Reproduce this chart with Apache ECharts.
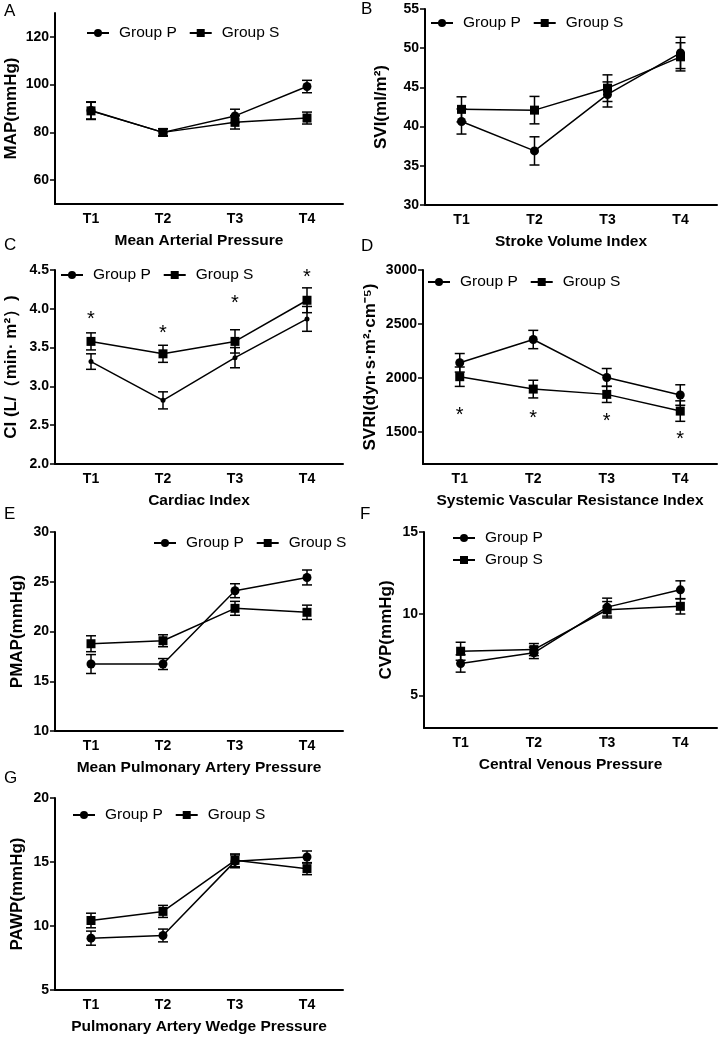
<!DOCTYPE html>
<html><head><meta charset="utf-8">
<script src="https://cdn.jsdelivr.net/npm/echarts@6/dist/echarts.min.js"></script>
<style>html,body{margin:0;padding:0;background:#fff}#c{width:721px;height:1038px}</style>
</head><body><div id="c"></div>
<script>
// ---------- data ----------
const timepoints = ['T1', 'T2', 'T3', 'T4'];
const seriesNames = ['Group P', 'Group S'];

const mapP = [89.2, 80.0, 86.9, 99.2];
const mapPErr = [3.6, 1.5, 2.8, 2.6];
const mapS = [89.0, 80.0, 84.2, 86.0];
const mapSErr = [3.6, 1.5, 2.8, 2.5];
const mapTicks = [60, 80, 100, 120];

const sviP = [40.65, 36.9, 44.1, 49.4];
const sviPErr = [1.6, 1.8, 1.6, 2.0];
const sviS = [42.2, 42.1, 44.9, 48.9];
const sviSErr = [1.6, 1.75, 1.7, 1.8];
const sviTicks = [30, 35, 40, 45, 50, 55];

const ciP = [3.32, 2.82, 3.37, 3.87];
const ciPErr = [0.10, 0.11, 0.13, 0.16];
const ciS = [3.58, 3.42, 3.58, 4.11];
const ciSErr = [0.11, 0.11, 0.15, 0.16];
const ciStars = [3.91, 3.73, 4.12, 4.46];
const ciTicks = [2.0, 2.5, 3.0, 3.5, 4.0, 4.5];

const svriP = [2139, 2355, 2003, 1840];
const svriPErr = [86, 85, 83, 95];
const svriS = [2010, 1895, 1846, 1691];
const svriSErr = [90, 82, 75, 95];
const svriStars = [1685, 1655, 1633, 1469];
const svriTicks = [1500, 2000, 2500, 3000];

const pmapP = [16.73, 16.73, 24.1, 25.43];
const pmapPErr = [0.95, 0.55, 0.7, 0.75];
const pmapS = [18.77, 19.07, 22.33, 21.93];
const pmapSErr = [0.8, 0.6, 0.7, 0.72];
const pmapTicks = [10, 15, 20, 25, 30];

const cvpP = [6.95, 7.6, 10.4, 11.46];
const cvpPErr = [0.53, 0.35, 0.55, 0.55];
const cvpS = [7.7, 7.8, 10.24, 10.45];
const cvpSErr = [0.55, 0.37, 0.5, 0.47];
const cvpTicks = [5, 10, 15];

const pawpP = [9.05, 9.26, 15.05, 15.39];
const pawpPErr = [0.55, 0.5, 0.5, 0.47];
const pawpS = [10.43, 11.14, 15.13, 14.48];
const pawpSErr = [0.57, 0.47, 0.5, 0.47];
const pawpTicks = [5, 10, 15, 20];

// ---------- layout ----------
const FONT = '"Liberation Sans", Arial, sans-serif';
const panels = [
  {letter:'A', lx:10, ly:12, grid:{left:55, top:13, width:288, height:191}, min:50, max:130, interval:10, ticks:mapTicks,
   yName:'MAP(mmHg)', yGap:35, xName:'Mean Arterial Pressure', P:mapP, PE:mapPErr, S:mapS, SE:mapSErr, pSize:9,
   legend:{left:86, top:25, orient:'horizontal'}},
  {letter:'B', lx:367, ly:10, grid:{left:425, top:9, width:292, height:196}, min:30, max:55, interval:5, ticks:sviTicks,
   yName:'SVI(ml/m²)', yGap:35, xName:'Stroke Volume Index', P:sviP, PE:sviPErr, S:sviS, SE:sviSErr, pSize:9,
   legend:{left:430, top:15, orient:'horizontal'}},
  {letter:'C', lx:10, ly:246, grid:{left:55, top:270, width:288, height:194}, min:2.0, max:4.5, interval:0.5, ticks:ciTicks, dec:1,
   yName:'CI (L/（min· m²）)', yGap:35, xName:'Cardiac Index', P:ciP, PE:ciPErr, S:ciS, SE:ciSErr, pSize:5, stars:ciStars,
   legend:{left:60, top:267, orient:'horizontal'}},
  {letter:'D', lx:367, ly:247, grid:{left:423, top:270, width:294, height:194}, min:1200, max:3000, interval:100, ticks:svriTicks,
   yName:'SVRI(dyn·s·m²·cm⁻⁵)', yGap:44, xName:'Systemic Vascular Resistance Index', P:svriP, PE:svriPErr, S:svriS, SE:svriSErr, pSize:9, stars:svriStars,
   legend:{left:427, top:274, orient:'horizontal'}},
  {letter:'E', lx:10, ly:515, grid:{left:55, top:532, width:288, height:199}, min:10, max:30, interval:5, ticks:pmapTicks,
   yName:'PMAP(mmHg)', yGap:29, xName:'Mean Pulmonary Artery Pressure', P:pmapP, PE:pmapPErr, S:pmapS, SE:pmapSErr, pSize:9,
   legend:{left:153, top:535, orient:'horizontal'}},
  {letter:'F', lx:366, ly:515, grid:{left:424, top:532, width:293, height:196}, min:3, max:15, interval:1, ticks:cvpTicks,
   yName:'CVP(mmHg)', yGap:29, xName:'Central Venous Pressure', P:cvpP, PE:cvpPErr, S:cvpS, SE:cvpSErr, pSize:9,
   legend:{left:452, top:530, orient:'vertical'}},
  {letter:'G', lx:10, ly:779, grid:{left:55, top:798, width:288, height:192}, min:5, max:20, interval:5, ticks:pawpTicks,
   yName:'PAWP(mmHg)', yGap:29, xName:'Pulmonary Artery Wedge Pressure', P:pawpP, PE:pawpPErr, S:pawpS, SE:pawpSErr, pSize:9,
   legend:{left:72, top:807, orient:'horizontal'}}
];

function errRender(params, api) {
  const x = api.value(0), m = api.value(1), e = api.value(2);
  const hi = api.coord([x, m + e]);
  const lo = api.coord([x, m - e]);
  const w = 5;
  const st = {stroke:'#000', lineWidth:1.5};
  return {type:'group', children:[
    {type:'line', shape:{x1:hi[0], y1:hi[1], x2:lo[0], y2:lo[1]}, style:st},
    {type:'line', shape:{x1:hi[0]-w, y1:hi[1], x2:hi[0]+w, y2:hi[1]}, style:st},
    {type:'line', shape:{x1:lo[0]-w, y1:lo[1], x2:lo[0]+w, y2:lo[1]}, style:st}
  ]};
}
function starRender(params, api) {
  const p = api.coord([api.value(0), api.value(1)]);
  return {type:'text', x:p[0], y:p[1] + 4, style:{text:'*', fill:'#000', font:'20px ' + FONT, align:'center', verticalAlign:'middle'}};
}

const grid = [], xAxis = [], yAxis = [], series = [], legend = [], graphic = [];
panels.forEach((pn, i) => {
  grid.push(pn.grid);
  xAxis.push({
    type:'category', gridIndex:i, data:timepoints, boundaryGap:true,
    axisLine:{lineStyle:{color:'#000', width:2}},
    axisTick:{alignWithLabel:true, length:5, lineStyle:{color:'#000', width:1.5}},
    axisLabel:{color:'#000', fontWeight:'bold', fontSize:14, fontFamily:FONT, margin:8},
    name:pn.xName, nameLocation:'middle', nameGap:29,
    nameTextStyle:{color:'#000', fontWeight:'bold', fontSize:15.5, fontFamily:FONT}
  });
  yAxis.push({
    type:'value', gridIndex:i, min:pn.min, max:pn.max, interval:pn.interval,
    axisLine:{show:true, lineStyle:{color:'#000', width:2}},
    axisTick:{show:true, length:5, customValues:pn.ticks, lineStyle:{color:'#000', width:1.5}},
    axisLabel:{customValues:pn.ticks, color:'#000', fontWeight:'bold', fontSize:14, fontFamily:FONT, margin:6,
      formatter: v => pn.dec ? Number(v).toFixed(pn.dec) : String(v)},
    splitLine:{show:false},
    name:pn.yName, nameLocation:'middle', nameGap:pn.yGap,
    nameTextStyle:{color:'#000', fontWeight:'bold', fontSize:17, fontFamily:FONT}
  });
  [[pn.P, pn.PE], [pn.S, pn.SE]].forEach(([m, e]) => {
    series.push({type:'custom', xAxisIndex:i, yAxisIndex:i, silent:true, z:3,
      data:m.map((v, j) => [j, v, e[j]]), encode:{x:0, y:1}, renderItem:errRender});
  });
  series.push({name:seriesNames[0], type:'line', xAxisIndex:i, yAxisIndex:i, data:pn.P,
    symbol:'circle', symbolSize:pn.pSize, color:'#000', itemStyle:{color:'#000'},
    lineStyle:{color:'#000', width:1.5}, z:4, animation:false});
  series.push({name:seriesNames[1], type:'line', xAxisIndex:i, yAxisIndex:i, data:pn.S,
    symbol:'rect', symbolSize:9, color:'#000', itemStyle:{color:'#000'},
    lineStyle:{color:'#000', width:1.5}, z:4, animation:false});
  if (pn.stars) {
    series.push({type:'custom', xAxisIndex:i, yAxisIndex:i, silent:true, z:5,
      data:pn.stars.map((v, j) => [j, v]), encode:{x:0, y:1}, renderItem:starRender});
  }
  legend.push({
    left:pn.legend.left, top:pn.legend.top, orient:pn.legend.orient, data:seriesNames,
    itemWidth:22, itemHeight:10, itemGap:pn.legend.orient === 'vertical' ? 6 : 12,
    selectedMode:false, padding:0,
    textStyle:{color:'#000', fontSize:15.5, fontFamily:FONT, padding:[0, 0, 0, 5]}
  });
  graphic.push({type:'text', left:pn.lx - 6, top:pn.ly - 9,
    style:{text:pn.letter, fill:'#000', font:'17px ' + FONT}});
});

const chart = echarts.init(document.getElementById('c'), null, {renderer:'canvas'});
chart.setOption({animation:false, backgroundColor:'#fff', grid, xAxis, yAxis, series, legend, graphic});
</script>
</body></html>
